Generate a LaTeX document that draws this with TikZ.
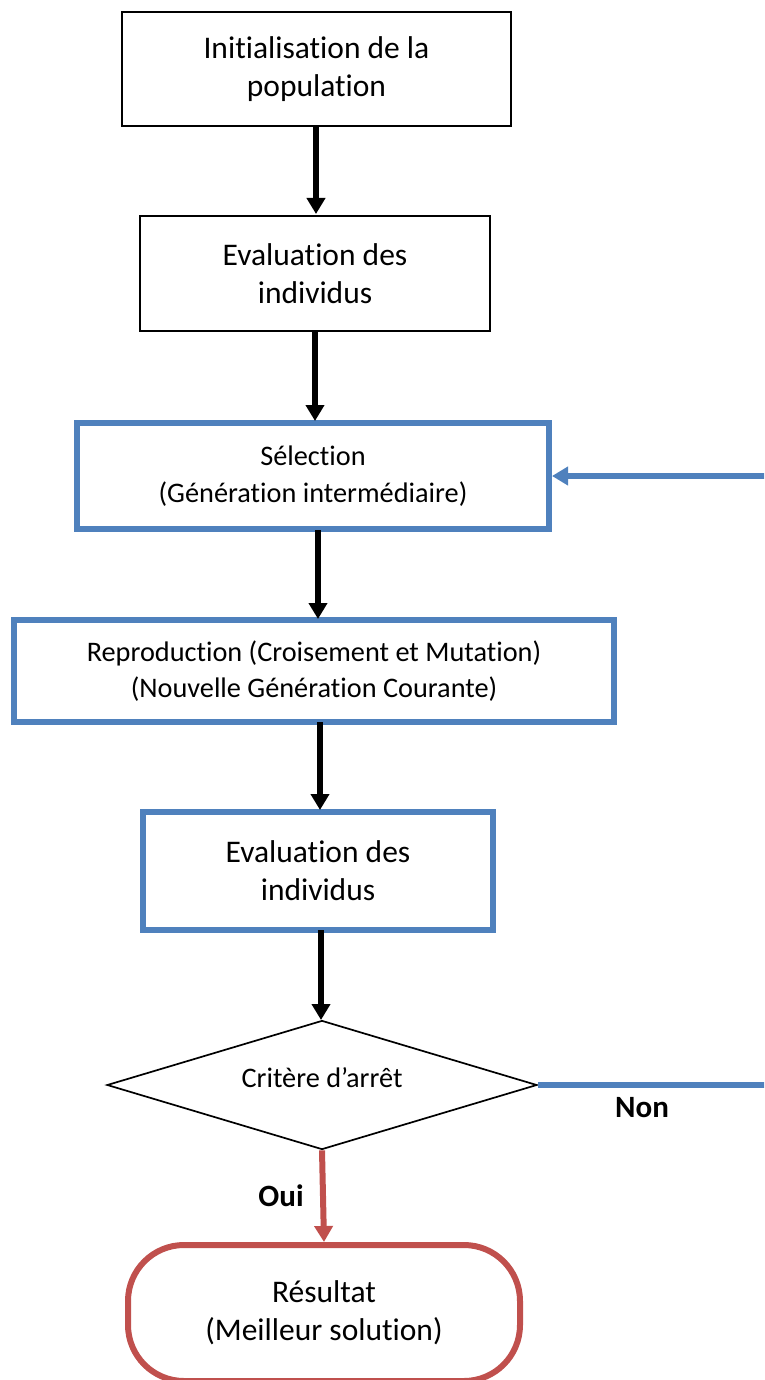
\documentclass[tikz,border=0pt]{standalone}
\usepackage{fontspec}
\setmainfont{Carlito}[Ligatures=NoCommon]
\usetikzlibrary{arrows.meta,shapes.geometric}
\definecolor{ofblue}{HTML}{4F81BD}
\definecolor{ofred}{HTML}{C0504D}
\begin{document}
\begin{tikzpicture}[x=1pt,y=-1pt,
  bigtxt/.style={font=\fontsize{31.5}{38}\selectfont},
  smalltxt/.style={font=\fontsize{28.3}{37}\selectfont},
  plainbox/.style={draw=black,line width=1.7pt,rectangle,inner sep=0pt,align=center,bigtxt},
  bluebox/.style={draw=ofblue,line width=6pt,rectangle,inner sep=0pt,align=center},
  flow/.style={line width=6pt,-{Triangle[width=18pt,length=16pt]}},
  lbl/.style={font=\fontsize{31}{36}\selectfont\bfseries}]
\useasboundingbox (0,0) rectangle (764,1380);
\clip (0,0) rectangle (764,1380);

% process boxes
\node[plainbox,minimum width=389,minimum height=114] (init) at (316.5,69) {Initialisation de la\\population};
\node[plainbox,minimum width=350,minimum height=115] (eval1) at (315,273.5) {Evaluation des\\individus};
\node[bluebox,smalltxt,minimum width=472,minimum height=106] (sel) at (313,476) {Sélection\\(Génération intermédiaire)};
\node[bluebox,font=\fontsize{28.3}{36}\selectfont,minimum width=600,minimum height=102] (repro) at (314,671) {Reproduction (Croisement et Mutation)\\(Nouvelle Génération Courante)};
\node[bluebox,bigtxt,minimum width=350,minimum height=118] (eval2) at (318,871) {Evaluation des\\individus};

% stopping test
\node[diamond,draw=black,line width=1.7pt,inner sep=0pt,aspect=3.3,
      minimum width=430,minimum height=129,smalltxt] (crit) at (322,1085) {};
\node[smalltxt] (crittxt) at (322,1078) {Critère d’arrêt};

% final result
\node[draw=ofred,line width=6pt,rounded corners=56pt,inner sep=0pt,align=center,bigtxt,
      minimum width=392,minimum height=136] (res) at (324,1313) {Résultat\\(Meilleur solution)};

% main flow
\draw[flow] (316,126) -- (316,214);
\draw[flow] (315,331) -- (315,421);
\draw[flow] (318,530) -- (318,619);
\draw[flow] (320,722) -- (320,810);
\draw[flow] (321,930) -- (321,1020);
\draw[flow,draw=ofred,fill=ofred] (crit.south) -- (res.north);

% loop back to selection, running past the right edge
\draw[ofblue,line width=6pt,-{Triangle[width=18pt,length=16pt]}]
  (crit.east) -- ++(260,0) |- (sel.east);

% labels
\node[lbl] (non) at (642,1108) {Non};
\node[lbl] (oui) at (281,1196) {Oui};
\end{tikzpicture}
\end{document}
